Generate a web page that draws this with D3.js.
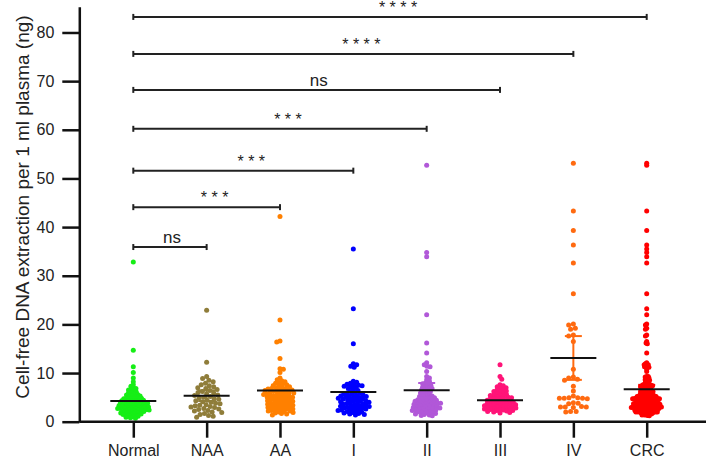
<!DOCTYPE html>
<html>
<head>
<meta charset="utf-8">
<script src="https://cdn.jsdelivr.net/npm/d3@7"></script>
<style>
  html, body { margin: 0; padding: 0; background: #fff; }
  svg { display: block; }
  text { font-family: "Liberation Sans", Arial, sans-serif; fill: #222; }
</style>
</head>
<body>
<svg id="chart" width="709" height="460"></svg>
<script>
// ---------------- data ----------------
const categories = ["Normal", "NAA", "AA", "I", "II", "III", "IV", "CRC"];
const colors = ["#16ee16", "#8f7d3a", "#ff8000", "#0000ff", "#b158d8", "#ff1478", "#ff6a10", "#ff0000"];

const normalVals = [32.8, 14.7, 11.3, 10.1, 9.0, 8.2, 7.6, 7.3,
  7.0, 6.8, 6.6, 6.5, 6.3, 6.1, 6.0, 5.9, 5.7, 5.6, 5.5, 5.4, 5.3, 5.2, 5.1, 5.0, 4.9, 4.8, 4.8, 4.7,
  4.6, 4.5, 4.5, 4.4, 4.3, 4.3, 4.2, 4.1, 4.1, 4.0, 3.9, 3.9, 3.8, 3.8, 3.7, 3.6, 3.6, 3.5, 3.5, 3.4,
  3.4, 3.3, 3.3, 3.2, 3.2, 3.1, 3.1, 3.0, 3.0, 2.9, 2.9, 2.8, 2.8, 2.7, 2.7, 2.6, 2.6, 2.5, 2.5, 2.4,
  2.4, 2.3, 2.3, 2.2, 2.1, 2.1, 2.0, 2.0, 1.9, 1.8, 1.8, 1.7, 1.6, 1.6, 1.5, 1.4, 1.3, 1.2, 1.1, 1.0,
  0.9, 0.8, 0.7];
const naaVals = [22.9, 12.2, 9.3, 8.9, 8.5, 8.2, 7.9, 7.6, 7.4, 7.2, 7.0, 6.8, 6.6, 6.4, 6.2, 6.0, 5.9,
  5.7, 5.5, 5.4, 5.2, 5.0, 4.9, 4.7, 4.6, 4.4, 4.3, 4.1, 4.0, 3.8, 3.7, 3.5, 3.4, 3.3, 3.1, 3.0, 2.9,
  2.7, 2.6, 2.5, 2.3, 2.2, 2.0, 1.9, 1.7, 1.5, 1.3, 1.1, 0.9];
const aaVals = [42.2, 20.9, 16.6, 16.4, 13.0, 10.9, 10.8, 10.1, 9.0,
  8.6, 8.4, 8.2, 8.0, 7.9, 7.7, 7.6, 7.4, 7.3, 7.2, 7.0, 6.9, 6.8, 6.8, 6.7, 6.6, 6.5, 6.5, 6.4, 6.3,
  6.2, 6.2, 6.1, 6.0, 5.9, 5.9, 5.8, 5.7, 5.6, 5.6, 5.5, 5.4, 5.3, 5.3, 5.2, 5.1, 5.0, 5.0, 4.9, 4.8,
  4.7, 4.6, 4.6, 4.5, 4.4, 4.3, 4.2, 4.2, 4.1, 4.0, 3.9, 3.8, 3.8, 3.7, 3.6, 3.5, 3.4, 3.4, 3.3, 3.2,
  3.1, 3.0, 3.0, 2.9, 2.8, 2.7, 2.6, 2.6, 2.5, 2.4, 2.3, 2.2, 2.2, 2.1, 2.0, 1.9, 1.8, 1.7, 1.6, 1.4];
const stageIVals = [35.5, 23.2, 16.0, 11.9, 11.7, 11.4, 11.2,
  8.3, 8.1, 7.9, 7.7, 7.6, 7.5, 7.4, 7.3, 7.2, 7.0, 6.8, 6.6, 6.4, 6.2, 6.0, 5.9, 5.8, 5.7, 5.6, 5.5,
  5.4, 5.3, 5.3, 5.2, 5.1, 5.0, 4.9, 4.8, 4.7, 4.7, 4.6, 4.5, 4.4, 4.3, 4.2, 4.2, 4.1, 4.0, 3.9, 3.8,
  3.7, 3.7, 3.6, 3.5, 3.4, 3.3, 3.2, 3.2, 3.1, 3.0, 2.9, 2.8, 2.8, 2.7, 2.6, 2.5, 2.4, 2.4, 2.3, 2.2,
  2.1, 2.0, 1.9, 1.8, 1.7, 1.6, 1.5, 1.4];
const stageIIVals = [52.7, 34.8, 33.9, 22.0, 16.2, 14.1, 12.1, 11.7, 11.4, 11.3, 10.3, 9.3,
  9.0, 8.6, 8.3, 8.0, 7.8, 7.6, 7.4, 7.2, 7.1, 6.9, 6.8, 6.6, 6.5, 6.3, 6.2, 6.0, 5.9, 5.7, 5.6, 5.4,
  5.3, 5.2, 5.0, 4.9, 4.8, 4.7, 4.6, 4.5, 4.4, 4.4, 4.3, 4.2, 4.1, 4.0, 4.0, 3.9, 3.8, 3.8, 3.7, 3.6,
  3.6, 3.5, 3.4, 3.3, 3.2, 3.2, 3.1, 3.0, 3.0, 2.9, 2.8, 2.8, 2.7, 2.6, 2.6, 2.5, 2.4, 2.4, 2.3, 2.2,
  2.1, 2.0, 2.0, 1.9, 1.8, 1.7, 1.6, 1.5, 1.4, 1.3, 1.2];
const stageIIIVals = [11.7, 9.3, 8.7, 7.6, 7.4, 7.2, 7.0, 6.8, 6.6, 6.5, 6.3, 6.2, 6.0, 5.9, 5.8, 5.6,
  5.5, 5.4, 5.3, 5.2, 5.1, 5.0, 4.9, 4.8, 4.7, 4.6, 4.5, 4.4, 4.4, 4.3, 4.2, 4.1, 4.0, 4.0, 3.9, 3.8,
  3.7, 3.7, 3.6, 3.5, 3.5, 3.4, 3.3, 3.3, 3.2, 3.1, 3.1, 3.0, 2.9, 2.9, 2.8, 2.7, 2.7, 2.6, 2.5, 2.5,
  2.4, 2.3, 2.3, 2.2, 2.1, 2.0, 1.9, 1.8];
const stageIVVals = [53.1, 43.3, 39.3, 36.3, 32.6, 26.3, 20.1, 19.9, 19.2, 19.0, 17.8, 17.6, 16.5,
  10.8, 9.2, 9.0, 8.7, 8.5, 7.3, 6.3, 5.3, 4.9, 4.8, 4.8, 4.7, 4.8, 4.9, 3.9, 3.8, 3.7, 3.1, 3.0, 3.0,
  2.9, 3.0, 2.1, 2.1, 2.0];
// CRC = all colorectal cancer stages (I-IV) pooled
const crcVals = [].concat(stageIVals, stageIIVals, stageIIIVals, stageIVVals);

const groupValues = [normalVals, naaVals, aaVals, stageIVals, stageIIVals, stageIIIVals, stageIVVals, crcVals];
// central line and its error bar (half-length)
const centerVals = [4.26, 5.35, 6.4, 6.1, 6.45, 4.4, 13.1, 6.67];
const errVals = [0.8, 1.1, 1.2, 1.3, 1.5, 0.5, 4.5, 0.9];

// comparisons against Normal
const compTargets = ["NAA", "AA", "I", "II", "III", "IV", "CRC"];
const compHeights = [35.9, 44.1, 51.6, 60.2, 68.2, 75.6, 83.2];
const compLabels = ["ns", "* * *", "* * *", "* * *", "ns", "* * * *", "* * * *"];

const yTicks = [0, 10, 20, 30, 40, 50, 60, 70, 80];
const yTitle = "Cell-free DNA extraction per 1 ml plasma (ng)";

// ---------------- layout ----------------
const svg = d3.select("#chart");
const axisX = 79.3, baseY = 421.7, topY = 6.7, rightX = 706;

const y = d3.scaleLinear().domain([0, 85.3]).range([baseY, topY]);
const x = d3.scalePoint().domain(categories).range([133.3, 646.7]);

// beeswarm placement (pixel space)
function swarm(vals, d) {
  const pts = vals.map(v => ({ v, py: y(v) })).sort((a, b) => a.py - b.py);
  const placed = [];
  let maxAbs = 0, k = 0;
  for (const p of pts) {
    const near = placed.filter(q => Math.abs(q.py - p.py) < d);
    const cands = [0];
    for (const q of near) {
      const dy = p.py - q.py;
      const dx = Math.sqrt(d * d - dy * dy);
      cands.push(q.dx + dx, q.dx - dx);
    }
    const flip = (k++ % 2) ? 1 : -1;
    cands.sort((a, b) => (Math.abs(a) - Math.abs(b)) || (flip * (a - b)));
    let chosen = 0;
    for (const c of cands) {
      let ok = true;
      for (const q of near) {
        const ddx = c - q.dx, ddy = p.py - q.py;
        if (ddx * ddx + ddy * ddy < d * d - 1e-6) { ok = false; break; }
      }
      if (ok) { chosen = c; break; }
    }
    p.dx = chosen;
    maxAbs = Math.max(maxAbs, Math.abs(chosen));
    placed.push(p);
  }
  return { pts: placed, maxAbs };
}
function layoutGroup(vals) {
  let d = 4.8, res = swarm(vals, d);
  while (res.maxAbs > 16.5 && d > 1.2) { d -= 0.1; res = swarm(vals, d); }
  return res.pts;
}

const r = 2.5;
const gDots = svg.append("g");
categories.forEach((cat, i) => {
  const pts = layoutGroup(groupValues[i]);
  gDots.selectAll(null).data(pts).enter().append("circle")
    .attr("cx", d => x(cat) + d.dx)
    .attr("cy", d => d.py)
    .attr("r", r)
    .attr("fill", colors[i]);
});

// error bars
const gErr = svg.append("g");
categories.forEach((cat, i) => {
  const cx = x(cat), lo = y(centerVals[i] - errVals[i]), hi = y(centerVals[i] + errVals[i]);
  gErr.append("line").attr("x1", cx).attr("x2", cx).attr("y1", lo).attr("y2", hi)
    .attr("stroke", colors[i]).attr("stroke-width", 2);
  [lo, hi].forEach(yy => gErr.append("line").attr("x1", cx - 8.5).attr("x2", cx + 8.5)
    .attr("y1", yy).attr("y2", yy).attr("stroke", colors[i]).attr("stroke-width", 2));
});
// central lines
svg.append("g").selectAll("line").data(categories).enter().append("line")
  .attr("x1", d => x(d) - 23).attr("x2", d => x(d) + 23)
  .attr("y1", (d, i) => y(centerVals[i])).attr("y2", (d, i) => y(centerVals[i]))
  .attr("stroke", "#111").attr("stroke-width", 2);

// y axis
const yAxis = d3.axisLeft(y).tickValues(yTicks).tickSize(17).tickSizeOuter(0).tickPadding(8);
const gy = svg.append("g").attr("transform", `translate(${axisX},0)`).call(yAxis);
gy.select(".domain").attr("stroke", "#111").attr("stroke-width", 2.5);
gy.selectAll(".tick line").attr("stroke", "#111").attr("stroke-width", 2.5);
gy.selectAll(".tick text").attr("font-size", "16px").attr("fill", "#222")
  .style("font-family", '"Liberation Sans", Arial, sans-serif');

// x axis
const xAxis = d3.axisBottom(x).tickSize(16).tickSizeOuter(0).tickPadding(7);
const gx = svg.append("g").attr("transform", `translate(0,${baseY})`).call(xAxis);
gx.select(".domain").remove();
gx.append("line").attr("x1", axisX).attr("x2", rightX).attr("y1", 0).attr("y2", 0)
  .attr("stroke", "#111").attr("stroke-width", 2.5);
gx.selectAll(".tick line").attr("stroke", "#111").attr("stroke-width", 2.5);
gx.selectAll(".tick text").attr("font-size", "16px").attr("fill", "#222")
  .style("font-family", '"Liberation Sans", Arial, sans-serif');

// y title
svg.append("text")
  .attr("transform", `translate(29,207) rotate(-90)`)
  .attr("text-anchor", "middle")
  .attr("font-size", "19px")
  .text(yTitle);

// significance brackets
const gB = svg.append("g");
compTargets.forEach((t, i) => {
  const x1 = x("Normal"), x2 = x(t), yy = y(compHeights[i]);
  gB.append("line").attr("x1", x1).attr("x2", x2).attr("y1", yy).attr("y2", yy)
    .attr("stroke", "#222").attr("stroke-width", 2);
  [x1, x2].forEach(xx => gB.append("line").attr("x1", xx).attr("x2", xx)
    .attr("y1", yy - 3).attr("y2", yy + 3).attr("stroke", "#222").attr("stroke-width", 2));
  const isNs = compLabels[i] === "ns";
  gB.append("text")
    .attr("x", (x1 + x2) / 2 + (isNs ? 2 : 8))
    .attr("y", yy - 4)
    .attr("text-anchor", "middle")
    .attr("font-size", isNs ? "17px" : "16px")
    .text(compLabels[i]);
});
</script>
</body>
</html>
